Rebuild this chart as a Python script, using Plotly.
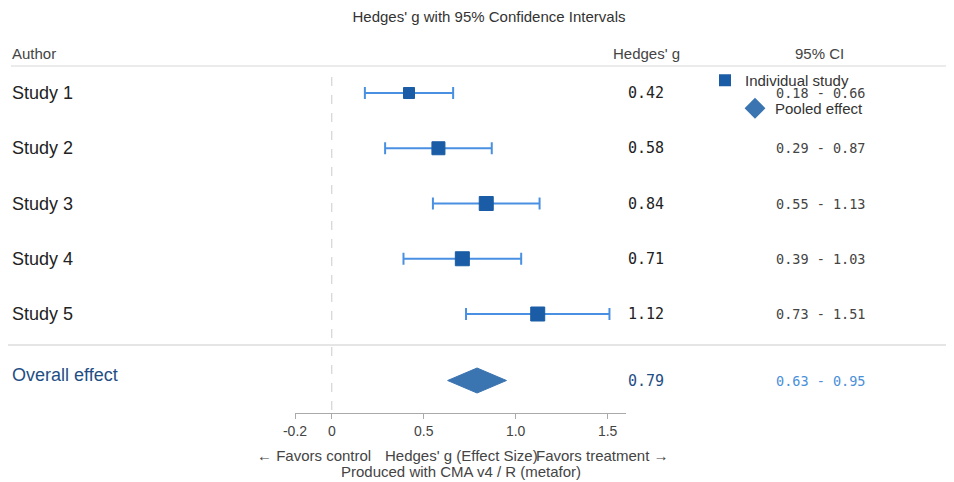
import plotly.graph_objects as go

# ---------------- data ----------------
studies = ["Study 1", "Study 2", "Study 3", "Study 4", "Study 5"]
g_values = [0.42, 0.58, 0.84, 0.71, 1.12]
ci_lower = [0.18, 0.29, 0.55, 0.39, 0.73]
ci_upper = [0.66, 0.87, 1.13, 1.03, 1.51]
pooled_label = "Overall effect"
pooled_g = 0.79
pooled_lower = 0.63
pooled_upper = 0.95
tick_values = [-0.2, 0, 0.5, 1.0, 1.5]
tick_labels = ["-0.2", "0", "0.5", "1.0", "1.5"]

# ---------------- style / layout geometry ----------------
OFF = 8                      # page body margin
W, H = 954 - OFF, 482 - OFF  # figure size
PLOT_TOP, PLOT_BOT = 67, 413  # screen pixels
M_T = PLOT_TOP - OFF
M_B = H - (PLOT_BOT - OFF)
plot_h = PLOT_BOT - PLOT_TOP
px_per_row = 55.25
y_top = 1 - (93 - PLOT_TOP) / px_per_row
y_bot = y_top + plot_h / px_per_row
row_y = [i + 1 for i in range(len(studies))]
pooled_y = y_top + (380.5 - PLOT_TOP) / px_per_row
pooled_label_y = y_top + (375 - PLOT_TOP) / px_per_row
sep_y = y_top + (345 - PLOT_TOP) / px_per_row
diamond_half = 12.5 / px_per_row
marker_px = [11, 13, 14, 14, 14]

SANS = "Liberation Sans, Arial, sans-serif"
MONO = "DejaVu Sans Mono, monospace"
SQ_COLOR = "#1a5ca5"
ERR_COLOR = "#4a90e2"
DIA_COLOR = "#3a74b1"
DARK_BLUE = "#1f4e85"
LIGHT_BLUE = "#4a90d9"


def sx(pix):
    """screen x -> paper x (margins l=r=0)"""
    return (pix - OFF) / W


def sy(pix):
    """screen y -> paper y"""
    return (PLOT_BOT - pix) / plot_h


fig = go.Figure()

# individual studies with CI
fig.add_trace(go.Scatter(
    x=g_values, y=row_y, mode="markers",
    marker=dict(symbol="square", size=marker_px, color=SQ_COLOR, opacity=1,
                line=dict(color=SQ_COLOR, width=1)),
    error_x=dict(type="data", symmetric=False,
                 array=[u - g for u, g in zip(ci_upper, g_values)],
                 arrayminus=[g - l for g, l in zip(g_values, ci_lower)],
                 color=ERR_COLOR, thickness=2, width=6),
    showlegend=False, hoverinfo="skip",
))

# pooled diamond
fig.add_trace(go.Scatter(
    x=[pooled_lower, pooled_g, pooled_upper, pooled_g, pooled_lower],
    y=[pooled_y, pooled_y - diamond_half, pooled_y, pooled_y + diamond_half, pooled_y],
    mode="lines", fill="toself", fillcolor=DIA_COLOR,
    line=dict(color=DIA_COLOR, width=1), showlegend=False, hoverinfo="skip",
))

# legend-only traces
fig.add_trace(go.Scatter(
    x=[None], y=[None], mode="markers", name="Individual study",
    marker=dict(symbol="square", size=12, color=SQ_COLOR), legend="legend",
))
fig.add_trace(go.Scatter(
    x=[None], y=[None], mode="markers", name="Pooled effect",
    marker=dict(symbol="diamond", size=22, color=DIA_COLOR), legend="legend2",
))

ann = []
# headers
ann.append(dict(text="Author", x=sx(10), y=sy(53), xanchor="left", yanchor="middle",
                font=dict(family=SANS, size=15, color="#444")))
ann.append(dict(text="Hedges' g", x=sx(646), y=sy(53), xanchor="center", yanchor="middle",
                font=dict(family=SANS, size=15, color="#444")))
ann.append(dict(text="95% CI", x=sx(819), y=sy(53), xanchor="center", yanchor="middle",
                font=dict(family=SANS, size=15, color="#444")))

for s, g, lo, hi, yv in zip(studies, g_values, ci_lower, ci_upper, row_y):
    ann.append(dict(text=s, x=sx(10), y=yv, yref="y", xanchor="left", yanchor="middle",
                    font=dict(family=SANS, size=18, color="#222")))
    ann.append(dict(text=f"{g:.2f}", x=sx(646), y=yv, yref="y", xanchor="center", yanchor="middle",
                    font=dict(family=MONO, size=15, color="#222")))
    ann.append(dict(text=f"{lo:.2f} - {hi:.2f}", x=sx(820), y=yv, yref="y", xanchor="center",
                    yanchor="middle", font=dict(family=MONO, size=13.5, color="#444")))

ann.append(dict(text=pooled_label, x=sx(10), y=pooled_label_y, yref="y", xanchor="left",
                yanchor="middle", font=dict(family=SANS, size=18, color=DARK_BLUE)))
ann.append(dict(text=f"{pooled_g:.2f}", x=sx(646), y=pooled_y, yref="y", xanchor="center",
                yanchor="middle", font=dict(family=MONO, size=15, color=DARK_BLUE)))
ann.append(dict(text=f"{pooled_lower:.2f} - {pooled_upper:.2f}", x=sx(820), y=pooled_y, yref="y",
                xanchor="center", yanchor="middle",
                font=dict(family=MONO, size=13.5, color=LIGHT_BLUE)))

# favors labels, axis title and caption
ann.append(dict(text="← Favors control", x=sx(314), y=sy(455), xanchor="center", yanchor="middle",
                font=dict(family=SANS, size=15, color="#444")))
ann.append(dict(text="Favors treatment →", x=sx(602), y=sy(455), xanchor="center", yanchor="middle",
                font=dict(family=SANS, size=15, color="#444")))
ann.append(dict(text="Hedges' g (Effect Size)", x=sx(461), y=sy(455), xanchor="center", yanchor="middle",
                font=dict(family=SANS, size=15, color="#444")))
ann.append(dict(text="Produced with CMA v4 / R (metafor)", x=sx(461), y=sy(472), xanchor="center",
                yanchor="middle", font=dict(family=SANS, size=15, color="#444")))

for a in ann:
    a.setdefault("xref", "paper")
    a.setdefault("yref", "paper")
    a["showarrow"] = False

shapes = [
    dict(type="line", xref="x", yref="paper", x0=0, x1=0, y0=sy(410), y1=sy(72),
         line=dict(color="#cccccc", width=1, dash="dash")),
    dict(type="line", xref="paper", yref="paper", x0=sx(11), x1=1, y0=sy(66), y1=sy(66),
         line=dict(color="#e4e4e4", width=1.5)),
    dict(type="line", xref="paper", yref="y", x0=0, x1=1, y0=sep_y, y1=sep_y,
         line=dict(color="#dddddd", width=1.5)),
]

fig.update_layout(
    width=W, height=H,
    margin=dict(l=0, r=0, t=M_T, b=M_B, autoexpand=False),
    paper_bgcolor="white", plot_bgcolor="white",
    title=dict(text="Hedges' g with 95% Confidence Intervals", x=(489 - OFF) / W, xanchor="center",
               y=1 - (17 - OFF) / H, yanchor="middle", font=dict(family=SANS, size=15, color="#333")),
    xaxis=dict(domain=[sx(295), sx(626)], range=[-0.2, 1.6], tickvals=tick_values,
               ticktext=tick_labels, showgrid=False, zeroline=False, showline=True,
               linecolor="#aaaaaa", linewidth=1, ticks="outside", ticklen=5, tickcolor="#aaaaaa",
               tickfont=dict(family=SANS, size=14, color="#444")),
    yaxis=dict(range=[y_bot, y_top], visible=False, showgrid=False, zeroline=False),
    showlegend=True,
    legend=dict(xref="paper", yref="paper", x=sx(705), y=sy(64),
                xanchor="left", yanchor="top", bgcolor="rgba(0,0,0,0)",
                font=dict(family=SANS, size=15, color="#333")),
    legend2=dict(xref="paper", yref="paper", x=sx(735), y=sy(92),
                 xanchor="left", yanchor="top", bgcolor="rgba(0,0,0,0)",
                 font=dict(family=SANS, size=15, color="#333")),
    annotations=ann,
    shapes=shapes,
)

fig.write_html("out.html")
